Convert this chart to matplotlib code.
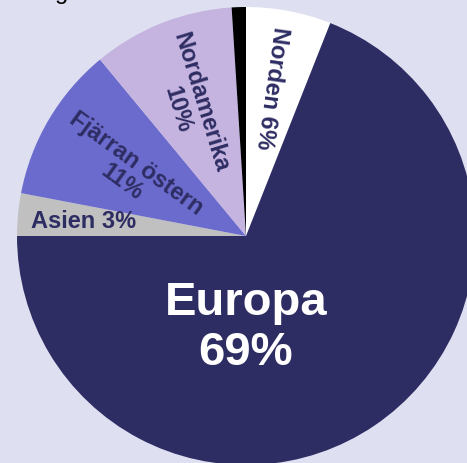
import matplotlib.pyplot as plt

# slices, clockwise from 12 o'clock
labels = ["Norden", "Europa", "Asien", "Fjärran östern", "Nordamerika", "Övrigt"]
shares = [6, 69, 3, 11, 10, 1]
colors = ["#ffffff", "#2e2d63", "#c0c0c0", "#6b6bcd", "#c5b4e0", "#000000"]

BG = "#dfdff2"
TXT = "#2e2d63"

W, H = 467, 464
CX, CY, R = 246, 237, 229  # pie centre / radius in pixels


def px(x, y):
    # pixel position -> data coords (pie radius = 1)
    return (x - CX) / R, (CY - y) / R


fig = plt.figure(figsize=(W / 100, H / 100), dpi=100, facecolor=BG)
ax = fig.add_axes([0, 0, 1, 1])
ax.set_facecolor(BG)

ax.pie(shares, colors=colors, startangle=90, counterclock=False,
       wedgeprops=dict(linewidth=0))
ax.set_aspect("auto")
ax.set_xlim(-CX / R, (W - CX) / R)
ax.set_ylim(-(H - CY) / R, CY / R)
ax.axis("off")

font = "Liberation Sans"
small = 17
ax.text(*px(272, 88), f"{labels[0]} {shares[0]}%", rotation=-98, color=TXT,
        fontsize=small, fontweight="bold", family=font, ha="center", va="center",
        rotation_mode="anchor")
ax.text(*px(246, 328), f"{labels[1]}\n{shares[1]}%", color="white",
        fontsize=34, fontweight="bold", family=font, ha="center", va="center",
        linespacing=1.2)
ax.text(*px(84, 221), f"{labels[2]} {shares[2]}%", color=TXT,
        fontsize=small, fontweight="bold", family=font, ha="center", va="center")
ax.text(*px(129, 173), f"{labels[3]}\n{shares[3]}%", rotation=-36, color=TXT,
        fontsize=small, fontweight="bold", family=font, ha="center", va="center",
        rotation_mode="anchor", linespacing=1.0)
ax.text(*px(189, 106), f"{labels[4]}\n{shares[4]}%", rotation=-73, color=TXT,
        fontsize=small, fontweight="bold", family=font, ha="center", va="center",
        rotation_mode="anchor", linespacing=1.1)

# title line sits above the crop, only a descender shows
fig.text(62 / W, 1 + 1 / H, "g", fontsize=17, family=font, color="black",
         ha="center", va="baseline")

fig.savefig("out.png", dpi=100, facecolor=BG)
